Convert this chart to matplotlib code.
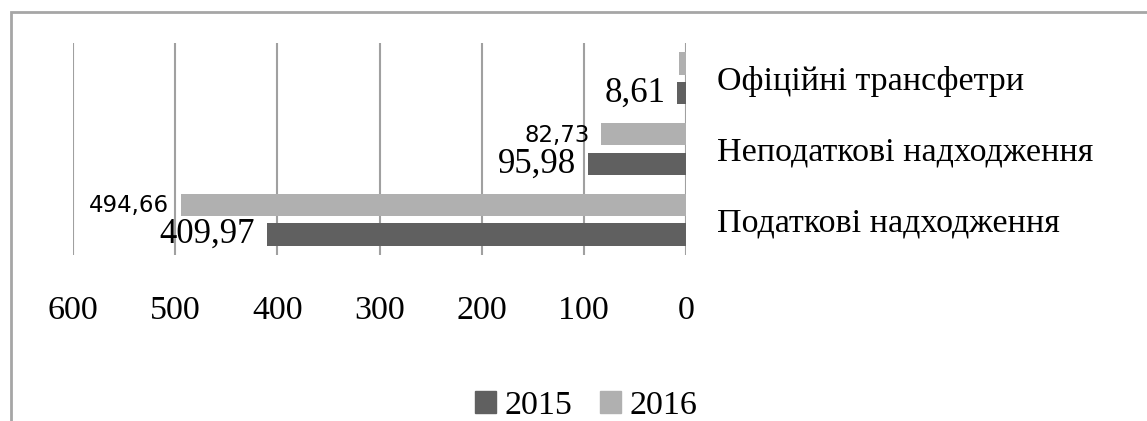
import matplotlib
matplotlib.use('Agg')
import matplotlib.pyplot as plt
from matplotlib.patches import Rectangle, Patch

# data (bottom to top)
categories = ['Податкові надходження', 'Неподаткові надходження', 'Офіційні трансфетри']
values_2015 = [409.97, 95.98, 8.61]
values_2016 = [494.66, 82.73, 6.5]
labels_2015 = ['409,97', '95,98', '8,61']
labels_2016 = ['494,66', '82,73', None]
xticks = [0, 100, 200, 300, 400, 500, 600]

dark = '#606060'
light = '#b0b0b0'
grid_col = '#a0a0a0'

plt.rcParams['font.family'] = ['Liberation Serif', 'DejaVu Serif']

fig = plt.figure(figsize=(11.47, 4.21), dpi=100)
ax = fig.add_axes([73 / 1147, 1 - 255 / 421, (686 - 73) / 1147, (255 - 43) / 421])

pos = list(range(len(categories)))
h = 0.32
off = 0.21
ax.barh([p - off for p in pos], values_2015, height=h, color=dark, zorder=3)
ax.barh([p + off for p in pos], values_2016, height=h, color=light, zorder=3)

# value labels
for p, v, lab in zip(pos, values_2015, labels_2015):
    ax.annotate(lab, xy=(v, p - off), xytext=(-12, 0), textcoords='offset pixels',
                ha='right', va='center', fontsize=25, color='black')
for p, v, lab in zip(pos, values_2016, labels_2016):
    if lab is None:
        continue
    ax.annotate(lab, xy=(v, p + off), xytext=(-12, -1), textcoords='offset pixels',
                ha='right', va='center', fontsize=16.5, color='black',
                family=['DejaVu Sans'])

ax.set_xlim(600, 0)
ax.set_ylim(-0.5, 2.5)
ax.set_xticks(xticks)
ax.set_xticklabels([str(t) for t in xticks], fontsize=24.5)
ax.tick_params(axis='x', length=0, pad=29)
ax.yaxis.tick_right()
ax.set_yticks(pos)
ax.set_yticklabels(categories, fontsize=24.5)
ax.tick_params(axis='y', length=0, pad=22)
ax.grid(axis='x', color=grid_col, linewidth=1.5, zorder=0)
for s in ax.spines.values():
    s.set_visible(False)

# outer frame (only top and left edges visible)
fig.patches.append(Rectangle((10.5 / 1147, -0.2), 1.2, 1.2 - 11.5 / 421,
                             transform=fig.transFigure, fill=False,
                             edgecolor='#a6a6a6', linewidth=2, clip_on=False))

handles = [Patch(color=dark, label='2015'), Patch(color=light, label='2016')]
fig.legend(handles=handles, loc='center', bbox_to_anchor=(0.511, 0.036), ncol=2,
           frameon=False, fontsize=24.5, handlelength=0.62, handleheight=0.62,
           handletextpad=0.25, columnspacing=0.8)

fig.savefig('out.png', dpi=100)
